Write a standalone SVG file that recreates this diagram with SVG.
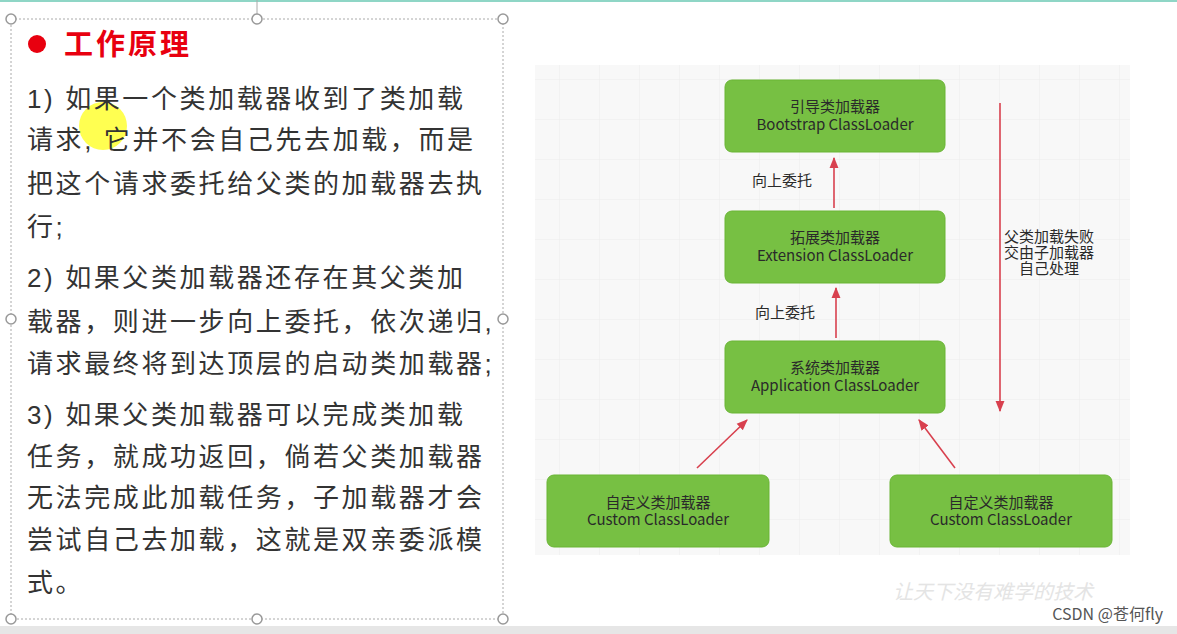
<svg xmlns="http://www.w3.org/2000/svg" width="1177" height="634" viewBox="0 0 1177 634">
<defs>
<style>
.t{font-family:"Liberation Sans","Noto Sans CJK SC",sans-serif;font-size:26px;fill:#333;letter-spacing:2.6px}
.n{fill:#77c043;stroke:#6ab535;stroke-width:1}
.nt{font-family:"Noto Sans CJK SC",sans-serif;font-size:15px;fill:#2a2a2a;text-anchor:middle}
.c{stroke:#d8404e;stroke-width:1.6;fill:none;marker-end:url(#ah)}
.h{fill:#fff;stroke:#999;stroke-width:1.5}
</style>
<marker id="ah" viewBox="0 0 10 10" refX="9" refY="5" markerWidth="7" markerHeight="7" orient="auto"><path d="M0,1 L10,5 L0,9 z" fill="#d8404e"/></marker>
<pattern id="g" width="40" height="40" patternUnits="userSpaceOnUse"><path d="M40 0V40M0 40H40" stroke="#ececec" stroke-width="1"/></pattern>
</defs>
<rect width="1177" height="634" fill="#fff"/>
<rect x="0" y="0" width="1177" height="2" fill="#8fd6c6"/>
<rect x="535" y="65" width="595" height="490" fill="#f8f8f8"/>
<rect x="535" y="65" width="595" height="490" fill="url(#g)"/>
<rect x="0" y="626" width="1177" height="8" fill="#e6e6e6"/>
<rect x="11" y="19" width="492" height="600" fill="none" stroke="#aaa" stroke-dasharray="2,2"/>
<line x1="257" y1="0" x2="257" y2="19" stroke="#aaa"/>
<g id="handles">
<circle class="h" cx="11" cy="19" r="5"/><circle class="h" cx="257" cy="19" r="5"/><circle class="h" cx="503" cy="19" r="5"/>
<circle class="h" cx="11" cy="319" r="5"/><circle class="h" cx="503" cy="319" r="5"/>
<circle class="h" cx="11" cy="619" r="5"/><circle class="h" cx="257" cy="619" r="5"/><circle class="h" cx="503" cy="619" r="5"/>
</g>
<circle cx="103" cy="126" r="24" fill="#ffff33" opacity="0.85"/>
<g id="text">
<circle cx="37" cy="44" r="9" fill="#e8000f"/>
<text x="64" y="55" font-family="Noto Sans CJK SC,serif" font-weight="bold" font-size="29" fill="#e8000f" letter-spacing="3">工作原理</text>
<text class="t" x="27" y="108">1) 如果一个类加载器收到了类加载</text>
<text class="t" x="27" y="149">请求, 它并不会自己先去加载，而是</text>
<text class="t" x="27" y="193">把这个请求委托给父类的加载器去执</text>
<text class="t" x="27" y="236">行;</text>
<text class="t" x="27" y="287">2) 如果父类加载器还存在其父类加</text>
<text class="t" x="27" y="331">载器，则进一步向上委托，依次递归,</text>
<text class="t" x="27" y="373">请求最终将到达顶层的启动类加载器;</text>
<text class="t" x="27" y="424">3) 如果父类加载器可以完成类加载</text>
<text class="t" x="27" y="466">任务，就成功返回，倘若父类加载器</text>
<text class="t" x="27" y="507">无法完成此加载任务，子加载器才会</text>
<text class="t" x="27" y="549">尝试自己去加载，这就是双亲委派模</text>
<text class="t" x="27" y="592">式。</text>
</g>
<g id="connectors">
<line class="c" x1="834" y1="208" x2="834" y2="158"/>
<line class="c" x1="836" y1="338" x2="836" y2="288"/>
<line class="c" x1="697" y1="468" x2="747" y2="420"/>
<line class="c" x1="955" y1="468" x2="919" y2="420"/>
<line class="c" x1="1000" y1="103" x2="1000" y2="411"/>
<text class="nt" x="782" y="186" font-size="14">向上委托</text>
<text class="nt" x="785" y="318" font-size="14">向上委托</text>
<text class="nt" x="1049" y="242" font-size="13">父类加载失败</text>
<text class="nt" x="1049" y="258" font-size="13">交由子加载器</text>
<text class="nt" x="1049" y="274" font-size="13">自己处理</text>
</g>
<g id="boot"><rect class="n" x="725" y="80" width="220" height="72" rx="7"/><text class="nt" x="835" y="112">引导类加载器</text><text class="nt" x="835" y="130">Bootstrap ClassLoader</text></g>
<g id="ext"><rect class="n" x="725" y="211" width="220" height="72" rx="7"/><text class="nt" x="835" y="243">拓展类加载器</text><text class="nt" x="835" y="261">Extension ClassLoader</text></g>
<g id="app"><rect class="n" x="725" y="341" width="220" height="72" rx="7"/><text class="nt" x="835" y="373">系统类加载器</text><text class="nt" x="835" y="391">Application ClassLoader</text></g>
<g id="cust1"><rect class="n" x="547" y="475" width="222" height="72" rx="7"/><text class="nt" x="658" y="508">自定义类加载器</text><text class="nt" x="658" y="525">Custom ClassLoader</text></g>
<g id="cust2"><rect class="n" x="890" y="475" width="222" height="72" rx="7"/><text class="nt" x="1001" y="508">自定义类加载器</text><text class="nt" x="1001" y="525">Custom ClassLoader</text></g>
<text x="893" y="599" font-family="Noto Sans CJK SC,sans-serif" font-size="20" fill="#e4e4e4" font-style="italic">让天下没有难学的技术</text>
<text x="1163" y="620" text-anchor="end" font-family="Noto Sans CJK SC,sans-serif" font-size="16" fill="#555">CSDN @苍何fly</text>
</svg>
